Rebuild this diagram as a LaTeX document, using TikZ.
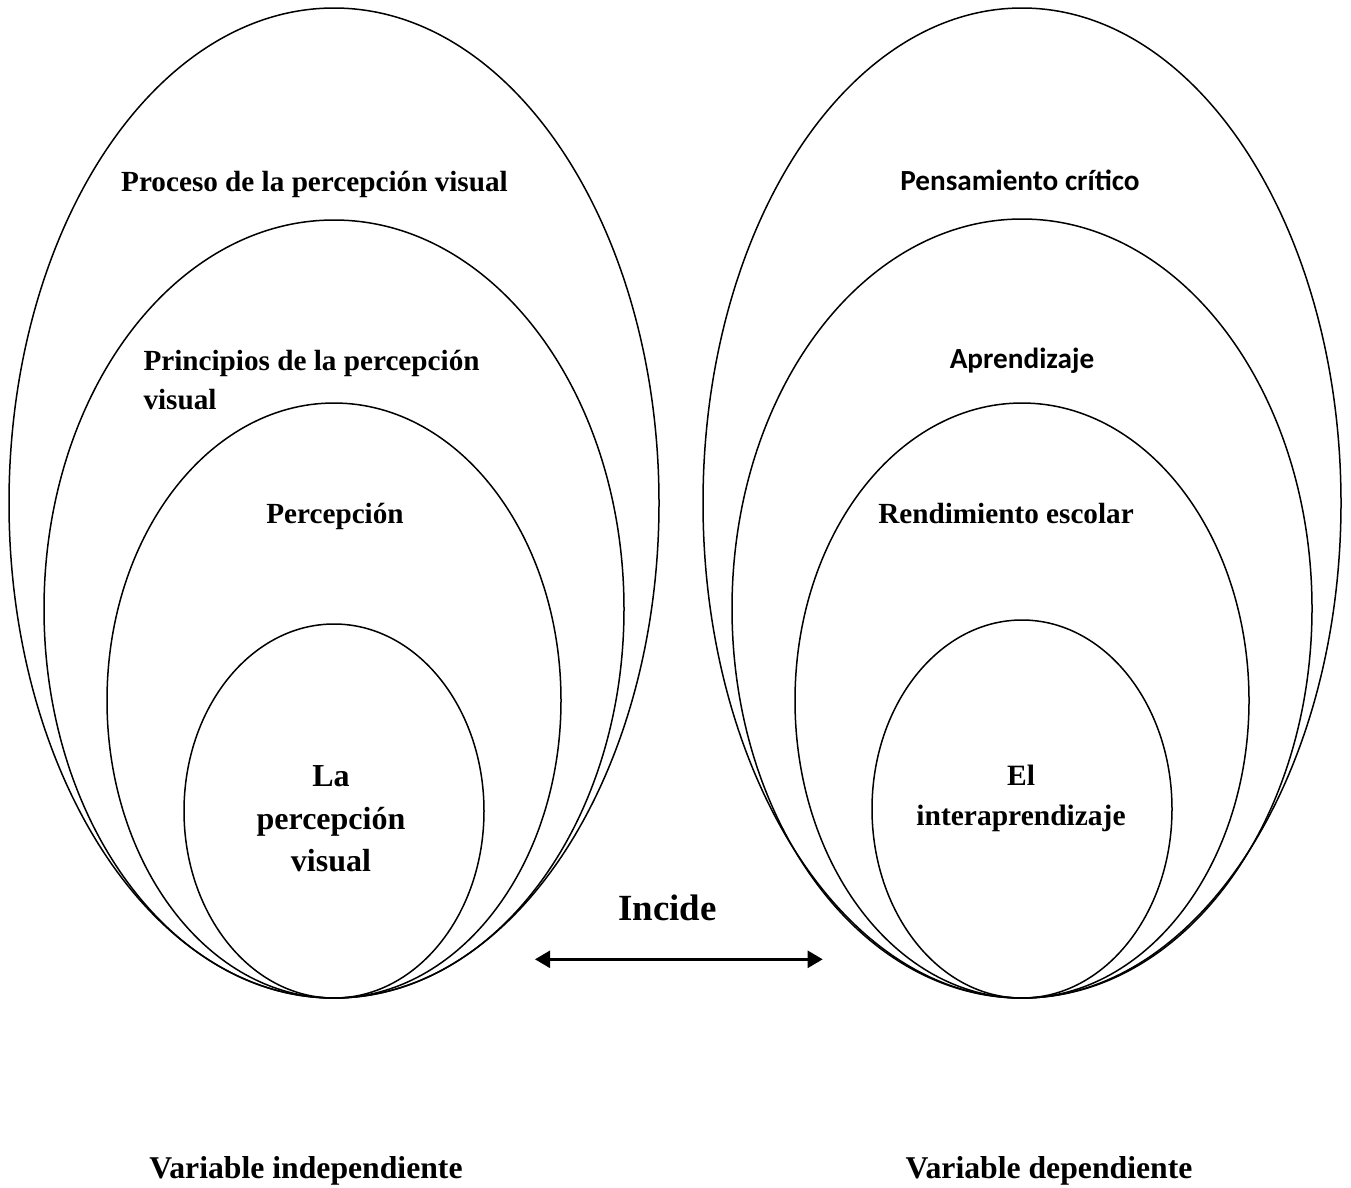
\documentclass[tikz,border=0pt]{standalone}
\usepackage{fontspec}
\setmainfont{Liberation Serif}
\newfontfamily\calibri{Carlito}
\usetikzlibrary{arrows.meta}

\begin{document}
\begin{tikzpicture}[x=1pt,y=-1pt,
		oval/.style={line width=1.5pt},
		lbl/.style={font=\bfseries\fontsize{29.2}{39}\selectfont,inner sep=0pt,anchor=base},
		sans/.style={lbl,font=\calibri\bfseries\fontsize{29.2}{39}\selectfont},
		both/.style={line width=2.4pt,{Triangle[length=15pt,width=17pt]}-{Triangle[length=15pt,width=17pt]}}]
		\useasboundingbox (0,0) rectangle (1351,1187);
		\foreach \cy/\rx/\ry in {503/325/495, 609/290/389, 700.5/227/297.5, 811/150/187}
		\draw[oval] (334,\cy) ellipse [x radius=\rx pt, y radius=\ry pt];
		\foreach \cy/\rx/\ry in {503/319/495, 608.5/290/389.5, 700.5/227/297.5, 809/150/189}
		\draw[oval] (1022,\cy) ellipse [x radius=\rx pt, y radius=\ry pt];
		\node[lbl] (proceso) at (314.5,191.7) {Proceso de la percepción visual};
		\node[lbl,anchor=base west,align=left] (principios) at (143.3,409) {Principios de la percepción\\visual};
		\node[lbl] (percepcion) at (335,523) {Percepción};
		\node[lbl,align=center,font=\bfseries\fontsize{32}{42.5}\selectfont] (laperc) at (331,871.7) {La\\percepción\\visual};
		\node[sans] (pensamiento) at (1020,190) {Pensamiento crítico};
		\node[sans] (aprendizaje) at (1022,368) {Aprendizaje};
		\node[lbl] (rendimiento) at (1006,523) {Rendimiento escolar};
		\node[lbl,align=center,font=\bfseries\fontsize{29.5}{40}\selectfont] (elinter) at (1021,825) {El\\interaprendizaje};
		\node[lbl,font=\bfseries\fontsize{36.9}{44}\selectfont] (incide) at (667.5,920) {Incide};
		\coordinate (izq) at (535,959.3);
		\coordinate (der) at (822.7,959.3);
		\draw[both] (izq) -- (der);
		\node[lbl,font=\bfseries\fontsize{31.7}{38}\selectfont] (varind) at (306,1178) {Variable independiente};
		\node[lbl,font=\bfseries\fontsize{31.7}{38}\selectfont] (vardep) at (1049,1178) {Variable dependiente};
\end{tikzpicture}
\end{document}
